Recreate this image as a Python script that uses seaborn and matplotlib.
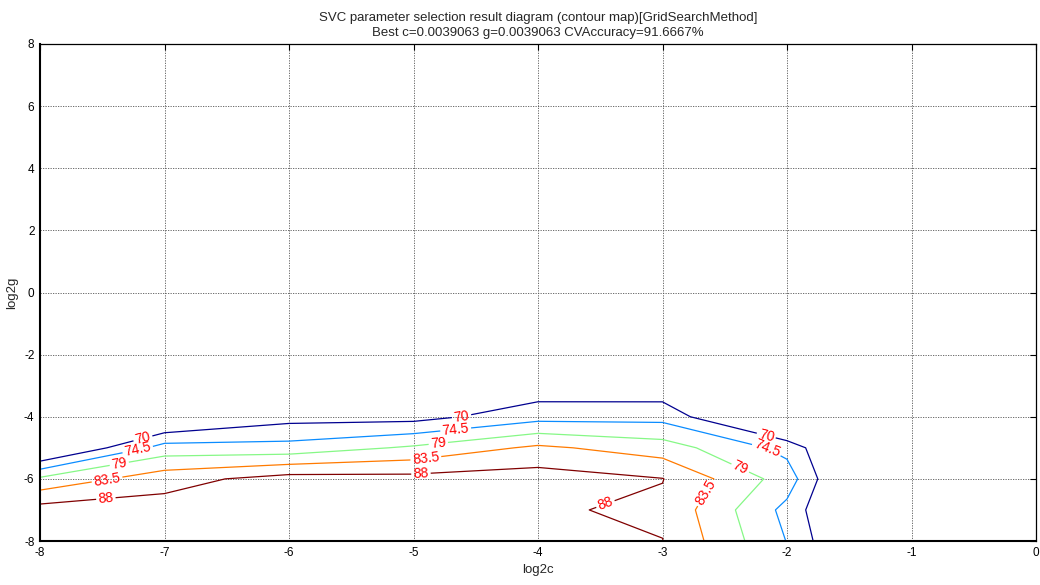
import numpy as np
import matplotlib
matplotlib.use('Agg')
import matplotlib.pyplot as plt
import seaborn as sns

# grid search axes (log2 of c and g)
log2c = [-8, -7, -6, -5, -4, -3, -2, -1, 0]
log2g = [-8, -7, -6, -5, -4, -3, -2, -1, 0, 1, 2, 3, 4, 5, 6, 7, 8]

# CV accuracy (%) per log2g row, columns follow log2c
acc_g_m8 = [91.67, 91.0, 90.8, 90.5, 89.5, 88.08, 74.36, 53.6, 50.0]
acc_g_m7 = [89.9, 90.0, 90.3, 90.0, 88.56, 87.2, 73.2, 51.9, 50.0]
acc_g_m6 = [79.87, 86.2, 89.9, 89.5, 90.1, 88.13, 76.9, 49.0, 50.0]
acc_g_m5 = [62.56, 76.4, 76.2, 79.7, 84.4, 81.2, 73.1, 52.4, 50.0]
acc_g_m4 = [57.0, 63.2, 68.3, 68.3, 72.8, 73.0, 59.6, 50.0, 50.0]
acc_g_m3 = [55.0, 58.0, 62.0, 63.0, 67.0, 66.75, 55.0, 50.0, 50.0]
acc_g_m2 = [53.3, 55.0, 56.7, 58.3, 58.3, 56.7, 51.7, 50.0, 50.0]
acc_g_m1 = [51.7, 51.7, 53.3, 53.3, 53.3, 51.7, 50.0, 50.0, 50.0]
acc_g_0 = [50.0, 50.0, 51.7, 51.7, 51.7, 50.0, 50.0, 50.0, 50.0]
acc_g_1 = [50.0, 50.0, 50.0, 50.0, 50.0, 50.0, 50.0, 50.0, 50.0]
acc_g_2 = [50.0, 50.0, 50.0, 50.0, 50.0, 50.0, 50.0, 50.0, 50.0]
acc_g_3 = [50.0, 50.0, 50.0, 50.0, 50.0, 50.0, 50.0, 50.0, 50.0]
acc_g_4 = [50.0, 50.0, 50.0, 50.0, 50.0, 50.0, 50.0, 50.0, 50.0]
acc_g_5 = [50.0, 50.0, 50.0, 50.0, 50.0, 50.0, 50.0, 50.0, 50.0]
acc_g_6 = [50.0, 50.0, 50.0, 50.0, 50.0, 50.0, 50.0, 50.0, 50.0]
acc_g_7 = [50.0, 50.0, 50.0, 50.0, 50.0, 50.0, 50.0, 50.0, 50.0]
acc_g_8 = [50.0, 50.0, 50.0, 50.0, 50.0, 50.0, 50.0, 50.0, 50.0]

levels = [70, 74.5, 79, 83.5, 88]
level_colors = ['#00008F', '#0A8CFF', '#86F886', '#FF7A00', '#800000']

# where the contour labels sit (near the line they belong to)
label_spots = [(-7.17, -4.75), (-4.61, -4.07), (-2.17, -4.66),
               (-7.21, -5.16), (-4.66, -4.46), (-2.17, -5.09),
               (-7.36, -5.59), (-4.80, -4.89), (-2.38, -5.69),
               (-7.46, -6.06), (-4.90, -5.37), (-2.69, -6.36),
               (-7.47, -6.68), (-4.94, -5.84), (-3.45, -6.90)]

title_lines = ['SVC parameter selection result diagram (contour map)[GridSearchMethod]',
               'Best c=0.0039063 g=0.0039063 CVAccuracy=91.6667%']

sns.set_style('white')
plt.rcParams['font.family'] = ['Liberation Sans', 'DejaVu Sans']
plt.rcParams['axes.unicode_minus'] = False

acc = np.array([acc_g_m8, acc_g_m7, acc_g_m6, acc_g_m5, acc_g_m4, acc_g_m3,
                acc_g_m2, acc_g_m1, acc_g_0, acc_g_1, acc_g_2, acc_g_3,
                acc_g_4, acc_g_5, acc_g_6, acc_g_7, acc_g_8])
C, G = np.meshgrid(log2c, log2g)

fig = plt.figure(figsize=(10.4, 5.85), dpi=100)
ax = fig.add_axes([40 / 1040, 1 - 541 / 585, 996 / 1040, 497 / 585])

cs = ax.contour(C, G, acc, levels=levels, colors=level_colors, linewidths=0.9)
ax.clabel(cs, fmt='%g', colors='red', fontsize=10, inline=True,
          inline_spacing=2, manual=label_spots)

ax.set_xlim(-8, 0)
ax.set_ylim(-8, 8)
ax.set_xticks(log2c)
ax.set_yticks(range(-8, 9, 2))
ax.grid(True, color='#555555', linestyle=(0, (1.5, 1.5)), linewidth=0.6)
ax.tick_params(direction='in', top=True, right=True, length=4, width=0.8,
               labelsize=8.5, colors='black', pad=4)
for sp in ax.spines.values():
    sp.set_color('black')
    sp.set_linewidth(0.9)
ax.spines['left'].set_linewidth(1.5)
ax.spines['bottom'].set_linewidth(1.5)

ax.set_xlabel('log2c', fontsize=9.5, labelpad=4)
ax.set_ylabel('log2g', fontsize=9.5, labelpad=4)
ax.set_title('\n'.join(title_lines), fontsize=9.5, linespacing=1.35, pad=6)

fig.savefig('out.png', dpi=100)
